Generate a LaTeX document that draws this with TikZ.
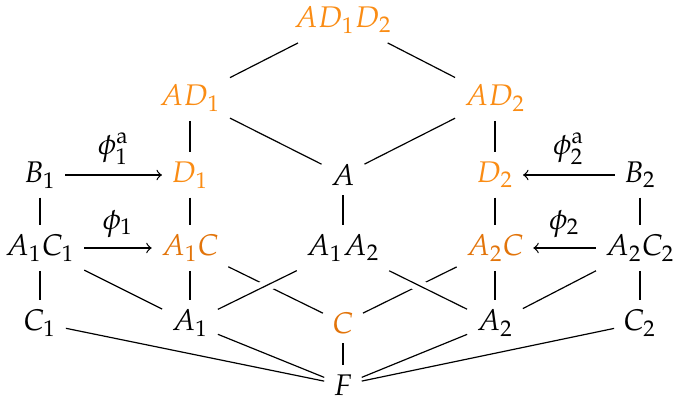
\documentclass[tikz,border=0pt]{standalone}
\usepackage{amsmath}
\usepackage{mathpazo}
\definecolor{toporange}{RGB}{250,140,20}
\definecolor{deeporange}{RGB}{226,116,10}

\begin{document}
\begin{tikzpicture}[x=0.01176cm, y=-0.01176cm,
    obj/.style={inner sep=3pt},
    hi/.style={obj, text=toporange},
    lo/.style={obj, text=deeporange},
    edge/.style={line width=0.4pt},
    over/.style={edge, preaction={draw, white, line width=4pt}},
    map/.style={edge, ->}]
  \useasboundingbox (0,0) rectangle (675,411);

  % top of the lattice
  \node[hi] (ADD) at (343,20) {$AD_1D_2$};
  \node[hi] (AD1) at (190,98) {$AD_1$};
  \node[hi] (AD2) at (495,98) {$AD_2$};

  % row of the B's and D's
  \node[obj] (B1) at (40,175) {$B_1$};
  \node[hi] (D1) at (190,175) {$D_1$};
  \node[obj] (A) at (343,175) {$A$};
  \node[hi] (D2) at (495,175) {$D_2$};
  \node[obj] (B2) at (640,175) {$B_2$};

  % middle row
  \node[obj] (A1C1) at (40,248) {$A_1C_1$};
  \node[lo] (A1C) at (190,248) {$A_1C$};
  \node[obj] (A1A2) at (343,248) {$A_1A_2$};
  \node[lo] (A2C) at (495,248) {$A_2C$};
  \node[obj] (A2C2) at (640,248) {$A_2C_2$};

  % lower row and bottom
  \node[obj] (C1) at (40,323) {$C_1$};
  \node[obj] (A1) at (190,323) {$A_1$};
  \node[lo] (C) at (343,323) {$C$};
  \node[obj] (A2) at (495,323) {$A_2$};
  \node[obj] (C2) at (640,323) {$C_2$};
  \node[obj] (F) at (343,385) {$F$};

  \draw[edge] (ADD) -- (AD1);
  \draw[edge] (ADD) -- (AD2);
  \draw[edge] (AD1) -- (D1);
  \draw[edge] (AD1) -- (A);
  \draw[edge] (AD2) -- (A);
  \draw[edge] (AD2) -- (D2);

  \draw[map] (B1) -- node[above] {$\phi_1^{\mathrm{a}}$} (D1);
  \draw[map] (B2) -- node[above] {$\phi_2^{\mathrm{a}}$} (D2);
  \draw[map] (A1C1) -- node[above] {$\phi_1$} (A1C);
  \draw[map] (A2C2) -- node[above] {$\phi_2$} (A2C);

  \draw[edge] (B1) -- (A1C1);
  \draw[edge] (D1) -- (A1C);
  \draw[edge] (A) -- (A1A2);
  \draw[edge] (D2) -- (A2C);
  \draw[edge] (B2) -- (A2C2);

  \draw[edge] (A1C1) -- (C1);
  \draw[edge] (A1C1) -- (A1);
  \draw[edge] (A1C) -- (A1);
  \draw[edge] (A1C) -- (C);
  \draw[edge] (A2C) -- (C);
  \draw[edge] (A2C) -- (A2);
  \draw[edge] (A2C2) -- (A2);
  \draw[edge] (A2C2) -- (C2);
  % these two pass over the lines into C
  \draw[over] (A1A2) -- (A1);
  \draw[over] (A1A2) -- (A2);

  \draw[edge] (C1) -- (F);
  \draw[edge] (A1) -- (F);
  \draw[edge] (C) -- (F);
  \draw[edge] (A2) -- (F);
  \draw[edge] (C2) -- (F);
\end{tikzpicture}
\end{document}
